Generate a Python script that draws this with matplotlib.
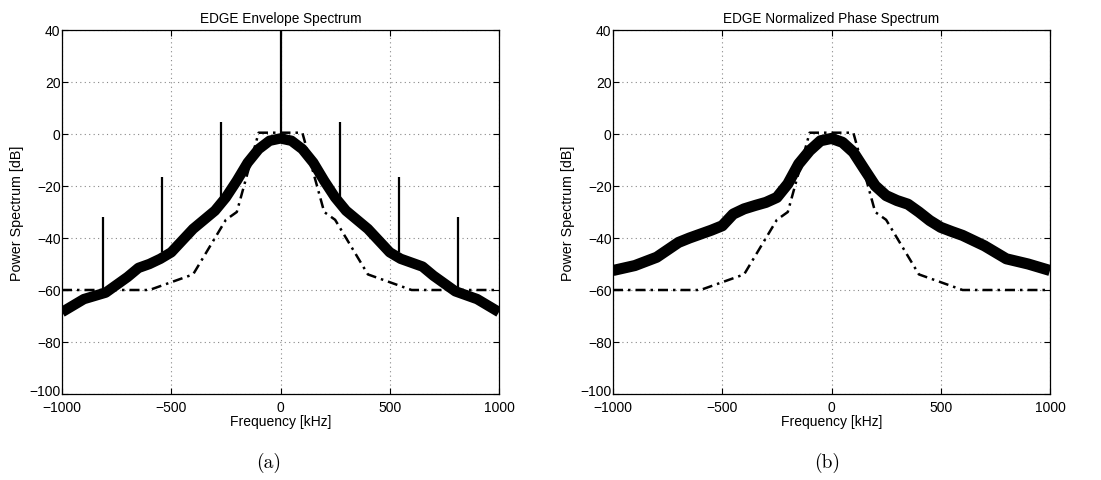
import matplotlib.pyplot as plt
import matplotlib.transforms as mtransforms

# Frequency grid points (kHz)
freq = [-1000, -900, -800, -700, -650, -600, -550, -500, -450, -400, -350, -300, -250,
        -200, -150, -100, -50, 0, 50, 100, 150, 200, 250, 300, 350, 400, 450, 500,
        550, 600, 650, 700, 800, 900, 1000]

# (a) envelope spectrum, band centre in dB
env_db = [-68.5, -63.5, -61, -55, -51.5, -50, -48, -45.5, -41, -36.5, -33, -29.5, -24.4,
          -18, -11, -5.8, -2.6, -1.7, -2.6, -5.8, -11, -18, -24.4, -29.5, -33, -36.5,
          -41, -45.5, -48, -49.5, -51, -54.5, -60.5, -63.5, -68.5]

# (b) normalized phase spectrum, band centre in dB
phase_db = [-52.5, -50.6, -47.4, -41.7, -40, -38.5, -37, -35.3, -30.8, -28.8, -27.5, -26.3,
            -24.4, -19.2, -11.5, -6.4, -2.6, -1.7, -3.2, -7, -13.5, -19.9, -23.7, -25.6,
            -27, -30, -33.3, -35.9, -37.5, -39, -41, -43, -48, -50, -52.5]

# spectral mask
mask_f = [-1000, -600, -400, -250, -200, -100, 100, 200, 250, 400, 600, 1000]
mask_db = [-60, -60, -54, -33, -30, 0.5, 0.5, -30, -33, -54, -60, -60]

# discrete spectral lines in the envelope spectrum
spike_f = [-812, -542, -271, 0, 271, 542, 812]
spike_top = [-32, -16.5, 4.5, 45, 4.5, -16.5, -32]
spike_base = [-60, -45.5, -25, -2, -25, -45.5, -60]

plt.rcParams['font.family'] = ['Liberation Sans', 'DejaVu Sans']
plt.rcParams['axes.unicode_minus'] = True

fig = plt.figure(figsize=(11.01, 4.81), dpi=100)
ax1 = fig.add_axes([62 / 1101, 86 / 481, 437 / 1101, 364 / 481])
ax2 = fig.add_axes([613 / 1101, 86 / 481, 437 / 1101, 364 / 481])


def style_axis(ax, title):
    ax.set_xlim(-1000, 1000)
    ax.set_ylim(-100, 40)
    ax.set_xticks([-1000, -500, 0, 500, 1000])
    ax.set_yticks([-100, -80, -60, -40, -20, 0, 20, 40])
    ax.grid(True, linestyle=(0, (1, 3)), color='#888888', linewidth=0.8)
    ax.tick_params(direction='in', top=True, right=True, labelsize=10, length=4)
    ax.tick_params(axis='x', pad=4.5)
    ax.tick_params(axis='y', pad=1)
    ax.set_xlabel('Frequency [kHz]', fontsize=10, labelpad=0)
    ax.set_ylabel('Power Spectrum [dB]', fontsize=10.3, labelpad=4)
    ax.set_title(title, fontsize=9.8, pad=6)
    for s in ax.spines.values():
        s.set_linewidth(0.9)
    # lift the bottom y label a little so it sits clear of the -1000 label
    lab = ax.get_yticklabels()[0]
    lab.set_transform(lab.get_transform() + mtransforms.ScaledTranslation(0, 3 / 72, fig.dpi_scale_trans))


# (a) envelope spectrum
ax1.plot(freq, env_db, color='black', linewidth=7.5, solid_capstyle='butt', zorder=3)
ax1.vlines(spike_f, spike_base, spike_top, color='black', linewidth=1.6, zorder=4)
ax1.plot(mask_f, mask_db, color='black', linewidth=1.8, dashes=(4, 2, 1, 2), zorder=2)
style_axis(ax1, 'EDGE Envelope Spectrum')

# (b) phase spectrum
ax2.plot(freq, phase_db, color='black', linewidth=8, solid_capstyle='butt', zorder=3)
ax2.plot(mask_f, mask_db, color='black', linewidth=1.8, dashes=(4, 2, 1, 2), zorder=2)
style_axis(ax2, 'EDGE Normalized Phase Spectrum')

fig.text(269 / 1101, 1 - 463 / 481, '(a)', family='cmr10', fontsize=14, ha='center', va='center')
fig.text(827 / 1101, 1 - 463 / 481, '(b)', family='cmr10', fontsize=14, ha='center', va='center')

fig.savefig('out.png', dpi=100)
